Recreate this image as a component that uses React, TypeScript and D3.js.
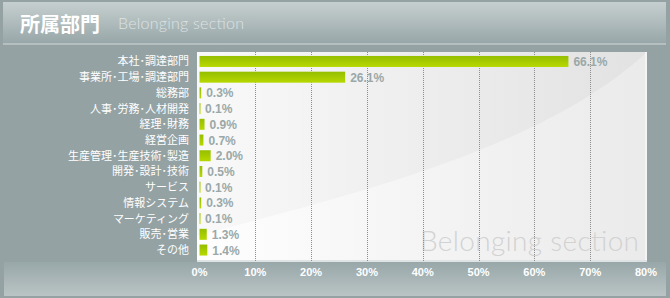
import React from "react";
import * as d3 from "d3";

const categories = [
  "本社･調達部門",
  "事業所･工場･調達部門",
  "総務部",
  "人事･労務･人材開発",
  "経理･財務",
  "経営企画",
  "生産管理･生産技術･製造",
  "開発･設計･技術",
  "サービス",
  "情報システム",
  "マーケティング",
  "販売･営業",
  "その他",
];
const values = [66.1, 26.1, 0.3, 0.1, 0.9, 0.7, 2.0, 0.5, 0.1, 0.3, 0.1, 1.3, 1.4];
const ticks = [0, 10, 20, 30, 40, 50, 60, 70, 80];
const title = "所属部門";
const subtitle = "Belonging section";

const W = 670;
const H = 298;
const panel = { x0: 197, x1: 646, y0: 52, y1: 261 };

export default function App() {
  const x = d3.scaleLinear().domain([0, 80]).range([199.5, 646]);
  const y = d3
    .scaleBand<string>()
    .domain(categories)
    .range([53.6, 257.9])
    .paddingInner(0.3)
    .paddingOuter(0.15);

  return (
    <svg
      width={W}
      height={H}
      style={{ position: "absolute", left: 0, top: 0 }}
    >
      <defs>
        <linearGradient id="hdr" x1="0" y1="0" x2="0" y2="1">
          <stop offset="0" stopColor="#c6cfcf" />
          <stop offset="1" stopColor="#97a6a8" />
        </linearGradient>
        <linearGradient id="ftr" x1="0" y1="0" x2="0" y2="1">
          <stop offset="0" stopColor="#98a7a9" />
          <stop offset="1" stopColor="#bac4c4" />
        </linearGradient>
        <linearGradient id="pnl" x1="0" y1="0" x2="1" y2="0">
          <stop offset="0" stopColor="#f9f9f9" />
          <stop offset="1" stopColor="#e2e2e2" />
        </linearGradient>
        <linearGradient id="swoosh" x1="0" y1="0" x2="1" y2="0">
          <stop offset="0" stopColor="#ffffff" />
          <stop offset="1" stopColor="#ececec" />
        </linearGradient>
        <linearGradient id="bar" x1="0" y1="0" x2="0" y2="1">
          <stop offset="0" stopColor="#95be00" />
          <stop offset="1" stopColor="#b7d800" />
        </linearGradient>
      </defs>
      <rect x={0} y={0} width={W} height={H} fill="#94a2a4" />
      {/* header */}
      <rect x={3} y={2} width={663} height={42} fill="url(#hdr)" />
      <rect x={3} y={43.5} width={663} height={1} fill="#d3dada" />
      <text
        x={20}
        y={32}
        fill="#ffffff"
        fontSize={20}
        fontWeight="bold"
        fontFamily="'Noto Sans CJK JP', sans-serif"
      >
        {title}
      </text>
      <text
        x={118}
        y={29}
        fill="#dde3e3"
        fontSize={16}
        fontFamily="Lato, 'Open Sans', sans-serif"
        fontWeight={300}
        textLength={126}
        lengthAdjust="spacing"
      >
        {subtitle}
      </text>
      {/* footer band */}
      <rect x={4} y={262} width={662} height={34} fill="url(#ftr)" />
      {/* panel */}
      <rect
        x={panel.x0}
        y={panel.y0}
        width={panel.x1 - panel.x0}
        height={panel.y1 - panel.y0}
        fill="url(#pnl)"
      />
      <path
        d={`M${panel.x0},236 C350,195 540,150 ${panel.x1},${panel.y0 + 1} L${panel.x1},${panel.y1} L${panel.x0},${panel.y1} Z`}
        fill="url(#swoosh)"
        opacity={0.85}
      />
      <rect x={panel.x1 - 1} y={panel.y0} width={2} height={panel.y1 - panel.y0} fill="#f4f4f4" />
      <rect x={panel.x0} y={panel.y1 - 1} width={panel.x1 - panel.x0 + 1} height={2} fill="#e0e3e3" />
      {/* watermark */}
      <text
        x={420}
        y={250.5}
        fill="#d2d2d2"
        fontSize={28}
        fontWeight={300}
        fontFamily="Lato, 'Open Sans', sans-serif"
        textLength={219}
        lengthAdjust="spacing"
      >
        {subtitle}
      </text>
      {/* grid */}
      {ticks
        .filter((t) => t > 0 && t < 80)
        .map((t) => (
          <line
            key={t}
            x1={Math.round(x(t)) + 0.5}
            x2={Math.round(x(t)) + 0.5}
            y1={panel.y0}
            y2={panel.y1}
            stroke="#8e8e8e"
            strokeWidth={1}
            strokeDasharray="1,1"
          />
        ))}
      {/* bars */}
      {categories.map((c, i) => (
        <g key={c}>
          <rect
            x={x(0)}
            y={y(c)}
            width={Math.max(1, x(values[i]) - x(0))}
            height={y.bandwidth()}
            fill="url(#bar)"
          />
          <text
            x={x(values[i]) + 5}
            y={(y(c) as number) + y.bandwidth() / 2 + 4.5}
            fill="#9aa8a8"
            fontSize={12}
            fontWeight="bold"
            fontFamily="Arial, 'Liberation Sans', sans-serif"
          >
            {values[i].toFixed(1)}%
          </text>
          <text
            x={189}
            y={(y(c) as number) + y.bandwidth() / 2 + 4}
            textAnchor="end"
            fill="#ffffff"
            fontSize={11}
            fontFamily="'Noto Sans CJK JP', sans-serif"
          >
            {c}
          </text>
        </g>
      ))}
      {/* x ticks */}
      {ticks.map((t) => (
        <text
          key={t}
          x={x(t)}
          y={276}
          textAnchor="middle"
          fill="#ffffff"
          fontSize={11}
          fontWeight="bold"
          fontFamily="Arial, 'Liberation Sans', sans-serif"
        >
          {t}%
        </text>
      ))}
    </svg>
  );
}
